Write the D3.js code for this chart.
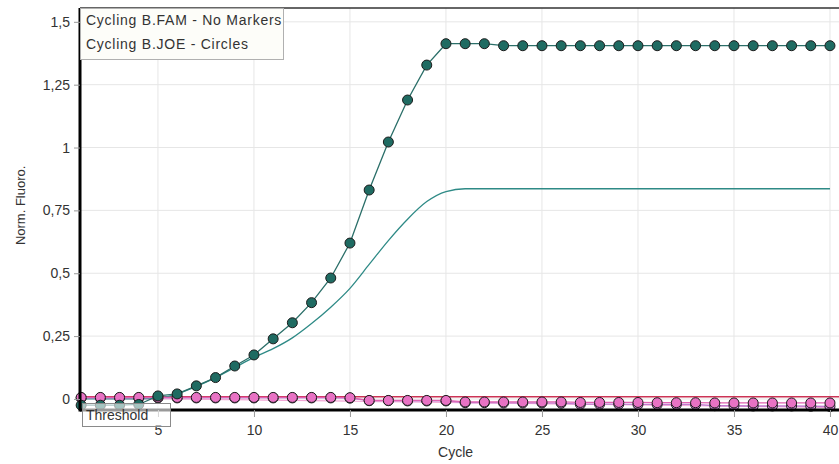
<!DOCTYPE html>
<html>
<head>
<meta charset="utf-8">
<script src="https://cdn.jsdelivr.net/npm/d3@7"></script>
<style>
  body { margin: 0; background: #fff; }
  text { font-family: "Liberation Sans", Arial, sans-serif; fill: #333; }
</style>
</head>
<body>
<svg id="chart" width="839" height="464"></svg>
<script>
// cycle numbers
var cycles = [1,2,3,4,5,6,7,8,9,10,11,12,13,14,15,16,17,18,19,20,
              21,22,23,24,25,26,27,28,29,30,31,32,33,34,35,36,37,38,39,40];

// JOE positive sample (teal circles)
var joePos = [-0.025,-0.025,-0.025,-0.022,0.012,0.02,0.052,0.085,0.131,0.175,
              0.239,0.303,0.383,0.481,0.62,0.831,1.022,1.189,1.328,1.413,
              1.413,1.413,1.405,1.405,1.405,1.405,1.405,1.405,1.405,1.405,
              1.405,1.405,1.405,1.405,1.405,1.405,1.405,1.405,1.405,1.405];

// FAM positive sample (teal line, no markers)
var famPos = [0,0,0,0,0.003,0.02,0.05,0.085,0.125,0.165,
              0.2,0.243,0.3,0.365,0.44,0.535,0.63,0.715,0.785,0.825,
              0.836,0.836,0.836,0.836,0.836,0.836,0.836,0.836,0.836,0.836,
              0.836,0.836,0.836,0.836,0.836,0.836,0.836,0.836,0.836,0.836];

// JOE negatives (pink circles)
var joeNegA = [0.006,0.006,0.006,0.006,0.006,0.006,0.006,0.006,0.006,0.006,
               0.006,0.006,0.006,0.006,0.005,-0.006,-0.006,-0.006,-0.006,-0.006,
               -0.012,-0.012,-0.012,-0.012,-0.012,-0.012,-0.014,-0.014,-0.014,-0.014,
               -0.015,-0.015,-0.015,-0.016,-0.016,-0.016,-0.016,-0.016,-0.016,-0.016];
var joeNegB = [0.004,0.004,0.004,0.004,0.004,0.004,0.004,0.004,0.004,0.004,
               0.004,0.004,0.004,0.004,0.003,-0.007,-0.007,-0.008,-0.008,-0.008,
               -0.015,-0.015,-0.016,-0.016,-0.016,-0.017,-0.021,-0.021,-0.021,-0.022,
               -0.022,-0.022,-0.022,-0.027,-0.027,-0.028,-0.028,-0.028,-0.029,-0.03];

// FAM negatives (pink line, no markers)
var famNeg = [0.002,0.002,0.001,0.001,0,0,-0.001,-0.002,-0.003,-0.004,
              -0.005,-0.006,-0.007,-0.008,-0.009,-0.01,-0.011,-0.012,-0.013,-0.014,
              -0.015,-0.016,-0.017,-0.018,-0.019,-0.02,-0.021,-0.022,-0.023,-0.024,
              -0.025,-0.026,-0.027,-0.028,-0.029,-0.03,-0.031,-0.032,-0.033,-0.034];

var threshold = 0.009;

var xTicks = [5,10,15,20,25,30,35,40];
var yTicks = [0,0.25,0.5,0.75,1,1.25,1.5];
var yTickLabels = ["0","0,25","0,5","0,75","1","1,25","1,5"];
var legendLines = ["Cycling B.FAM - No Markers", "Cycling B.JOE - Circles"];

var margin = {top: 8, right: 0, bottom: 54, left: 80},
    width = 839 - margin.left - margin.right,
    height = 464 - margin.top - margin.bottom;

var x = d3.scaleLinear().domain([0.94, 40.47]).range([0, width]);
var y = d3.scaleLinear().domain([-0.044, 1.555]).range([height, 0]);

var svg = d3.select("#chart")
  .append("g")
    .attr("transform", "translate(" + margin.left + "," + margin.top + ")");

// grid
svg.selectAll(".vgrid").data(xTicks).enter().append("line")
    .attr("x1", function(d) { return x(d); }).attr("x2", function(d) { return x(d); })
    .attr("y1", 0).attr("y2", height)
    .attr("stroke", "#e6e6e6");
svg.selectAll(".hgrid").data(yTicks).enter().append("line")
    .attr("x1", 0).attr("x2", width)
    .attr("y1", function(d) { return y(d); }).attr("y2", function(d) { return y(d); })
    .attr("stroke", "#e6e6e6");

var line = d3.line()
    .x(function(d, i) { return x(cycles[i]); })
    .y(function(d) { return y(d); });
var smooth = d3.line()
    .x(function(d, i) { return x(cycles[i]); })
    .y(function(d) { return y(d); })
    .curve(d3.curveMonotoneX);

// FAM negative line
svg.append("path").datum(famNeg)
    .attr("fill", "none").attr("stroke", "#f2a6d6").attr("stroke-width", 1.2)
    .attr("d", smooth);

// threshold
svg.append("line")
    .attr("x1", 0).attr("x2", width)
    .attr("y1", y(threshold)).attr("y2", y(threshold))
    .attr("stroke", "#cc3355").attr("stroke-width", 1.5);

// FAM positive line
svg.append("path").datum(famPos)
    .attr("fill", "none").attr("stroke", "#2e8a86").attr("stroke-width", 1.3)
    .attr("d", smooth);

function circleSeries(vals, lineColor, fill) {
  svg.append("path").datum(vals)
      .attr("fill", "none").attr("stroke", lineColor).attr("stroke-width", 1.3)
      .attr("d", line);
  svg.append("g").selectAll("circle").data(vals).enter().append("circle")
      .attr("cx", function(d, i) { return x(cycles[i]); })
      .attr("cy", function(d) { return y(d); })
      .attr("r", 5)
      .attr("fill", fill)
      .attr("stroke", "#1c1c1c").attr("stroke-width", 1);
}

circleSeries(joeNegB, "#c07ad0", "#d990e6");
circleSeries(joeNegA, "#e060b0", "#e872c4");
circleSeries(joePos, "#2b6f69", "#1f6b62");

// axes lines
svg.append("line").attr("x1", 0).attr("x2", width).attr("y1", 0).attr("y2", 0)
    .attr("stroke", "#333").attr("stroke-width", 1.5);
svg.append("line").attr("x1", 0).attr("x2", width).attr("y1", height).attr("y2", height)
    .attr("stroke", "#000").attr("stroke-width", 3);
svg.append("line").attr("x1", 0).attr("x2", 0).attr("y1", 0).attr("y2", height + 1.5)
    .attr("stroke", "#000").attr("stroke-width", 3);

// x axis ticks
var xAxis = svg.append("g")
    .attr("transform", "translate(0," + height + ")")
    .call(d3.axisBottom(x).tickValues(xTicks).tickSize(7).tickPadding(8).tickFormat(d3.format("d")));
xAxis.select(".domain").remove();
xAxis.selectAll("line").attr("stroke", "#999");
xAxis.selectAll("text").style("font-size", "14px").attr("fill", "#333")
    .style("font-family", "'Liberation Sans', Arial, sans-serif");

// y axis ticks
var yAxis = svg.append("g")
    .call(d3.axisLeft(y).tickValues(yTicks).tickSize(6).tickPadding(4)
      .tickFormat(function(d, i) { return yTickLabels[i]; }));
yAxis.select(".domain").remove();
yAxis.selectAll("line").attr("stroke", "#999");
yAxis.selectAll("text").style("font-size", "14px").attr("fill", "#333")
    .style("font-family", "'Liberation Sans', Arial, sans-serif");

// axis titles
svg.append("text")
    .attr("x", x(20.5)).attr("y", height + 47)
    .attr("text-anchor", "middle").style("font-size", "14px")
    .text("Cycle");
svg.append("text")
    .attr("transform", "translate(-55," + y(0.77) + ") rotate(-90)")
    .attr("text-anchor", "middle").style("font-size", "13px")
    .text("Norm. Fluoro.");

// legend
var legend = svg.append("g");
legend.append("rect")
    .attr("x", 0.5).attr("y", 0.5).attr("width", 203).attr("height", 51)
    .attr("fill", "#fdfdf9").attr("stroke", "#b0b0b0");
legend.selectAll("text").data(legendLines).enter().append("text")
    .attr("x", 6).attr("y", function(d, i) { return 17 + i * 24; })
    .style("font-size", "14px").style("letter-spacing", "0.75px").attr("fill", "#222")
    .text(function(d) { return d; });

// threshold label
var tl = svg.append("g").attr("transform", "translate(2," + (height - 7) + ")");
tl.append("rect")
    .attr("x", 0.5).attr("y", 0.5).attr("width", 88).attr("height", 23)
    .attr("fill", "#ffffff").attr("fill-opacity", 0.6).attr("stroke", "#8a8a8a");
tl.append("text").attr("x", 4).attr("y", 17)
    .style("font-size", "14px").attr("fill", "#222")
    .text("Threshold");
</script>
</body>
</html>
